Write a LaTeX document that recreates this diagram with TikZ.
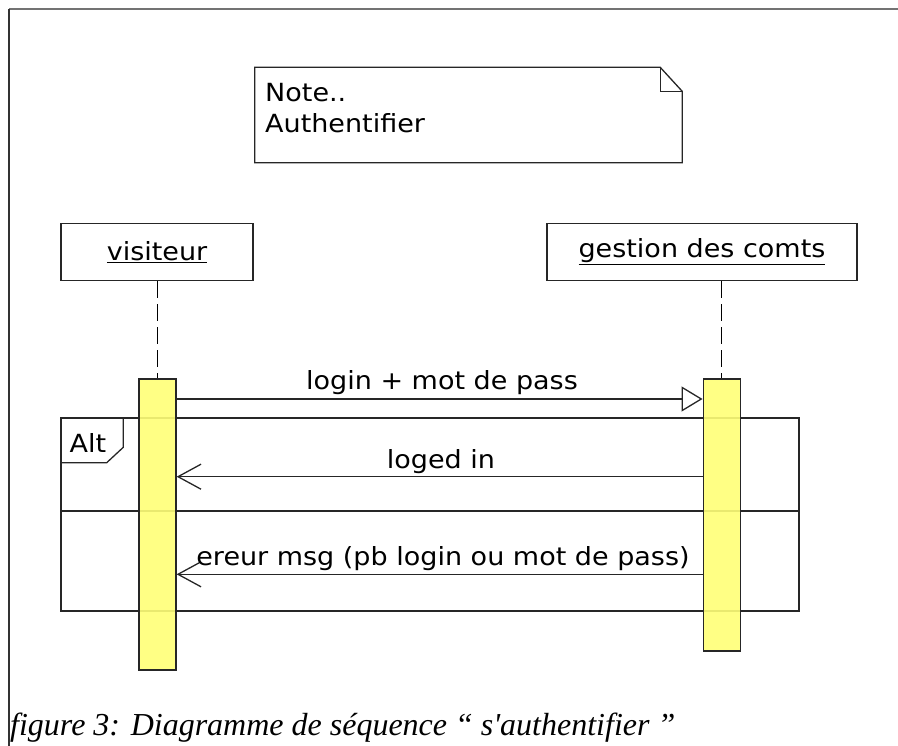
\documentclass[tikz,border=0pt]{standalone}
\usepackage{fontspec}
\usetikzlibrary{arrows.meta}
\newfontfamily\umlfont[FakeStretch=1.08]{DejaVu Sans}
\newfontfamily\capfont{Liberation Serif}
\definecolor{barfill}{HTML}{FFFF77}
\tikzset{
  uml/.style={font=\umlfont\fontsize{25}{30}\selectfont},
  edge/.style={line width=1.3pt, draw=black!85},
  actor/.style={edge, rectangle, minimum width=#1, minimum height=57.5pt, inner sep=0pt, uml},
  bar/.style={edge, fill=barfill, fill opacity=0.9, rectangle, minimum width=37pt, minimum height=#1, inner sep=0pt},
  lifeline/.style={line width=1.3pt, dash pattern=on 17pt off 6pt},
  msgtext/.style={uml, anchor=base, inner sep=0pt},
  syncmsg/.style={edge, -{Triangle[open, length=21pt, width=25pt, line width=1.3pt]}},
  replymsg/.style={edge, -{Straight Barb[length=23pt, width=25pt, line width=1.3pt]}},
}
\begin{document}
\begin{tikzpicture}[x=1pt, y=-1pt]
\useasboundingbox (0,0) rectangle (898,746);

% page frame
\draw[line width=1.5pt, black!55] (9,9) -- (898,9);
\draw[line width=1.5pt, black!80] (9,9) -- (9,746);

% note
\node[rectangle, minimum width=427pt, minimum height=95pt, inner sep=0pt] (note) at (468.5,115) {};
\draw[edge] (note.north west) -- ([xshift=-22pt]note.north east) -- ([yshift=-24pt]note.north east)
  -- (note.south east) -- (note.south west) -- cycle;
\draw[edge] ([xshift=-22pt]note.north east) -- ([xshift=-22pt, yshift=-24pt]note.north east)
  -- ([yshift=-24pt]note.north east);
\node[uml, anchor=base west, inner sep=0pt] (notetext) at (265,101.7) {Note..};
\node[uml, anchor=base west, inner sep=0pt] (notetext2) at (265,132.7) {Authentifier};

% actors
\node[actor=192pt] (visiteur) at (157,252) {\underline{visiteur}};
\node[actor=310pt] (gestion) at (702,252) {\underline{gestion des comts}};

% alt combined fragment (drawn under the activation bars)
\node[edge, rectangle, minimum width=738pt, minimum height=193pt, inner sep=0pt] (alt) at (430,514.5) {};
\coordinate (tabA) at (123.3,418.3);
\coordinate (tabB) at (123.3,447.3);
\coordinate (tabC) at (106.7,462.7);
\coordinate (tabD) at (61,462.7);
\draw[edge] (tabA) -- (tabB) -- (tabC) -- (tabD);
\node[uml, anchor=base, inner sep=0pt] (altlabel) at (88,452) {Alt};
\coordinate (sep) at (0,511);
\draw[edge] (alt.west |- sep) -- (alt.east |- sep);

% activation bars
\node[bar=291pt] (barV) at (157.5,524.5) {};
\node[bar=272pt] (barG) at (721.7,515) {};

% lifelines
\draw[lifeline] (visiteur.south -| barV.north) -- (barV.north);
\draw[lifeline] (gestion.south -| barG.north) -- (barG.north);

% messages
\coordinate (y1) at (0,399);
\coordinate (y2) at (0,476.7);
\coordinate (y3) at (0,574.3);
\draw[syncmsg] (barV.east |- y1) -- (barG.west |- y1);
\node[msgtext] (m1) at (442,389) {login + mot de pass};
\draw[replymsg] (barG.west |- y2) -- (barV.east |- y2);
\node[msgtext] (m2) at (441,468) {loged in};
\draw[replymsg] (barG.west |- y3) -- (barV.east |- y3);
\node[msgtext] (m3) at (443,565) {ereur msg (pb login ou mot de pass)};

% caption
\node[font=\capfont\itshape\fontsize{32}{37}\selectfont, anchor=base west, inner sep=0pt] (caption) at (10,735)
  {figure 3: Diagramme de séquence “ s\symbol{39}authentifier ”};
\end{tikzpicture}
\end{document}
